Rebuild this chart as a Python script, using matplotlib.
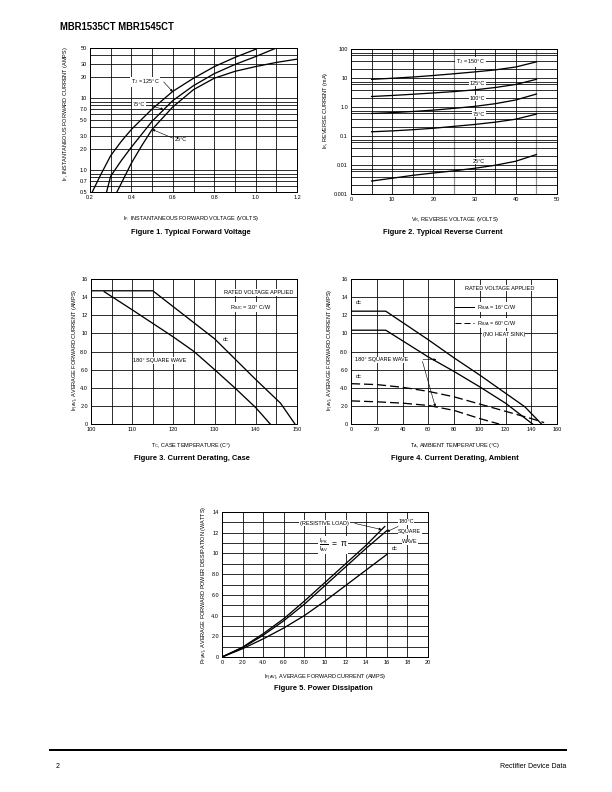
"""Datasheet page: MBR1535CT / MBR1545CT typical curves."""
import matplotlib
matplotlib.use('Agg')
import matplotlib.pyplot as plt
from matplotlib.ticker import FixedLocator, NullFormatter, LogLocator

plt.rcParams['font.family'] = ['Liberation Sans', 'DejaVu Sans']
plt.rcParams['mathtext.fontset'] = 'custom'
plt.rcParams['mathtext.rm'] = 'Liberation Sans'
plt.rcParams['mathtext.it'] = 'Liberation Sans'

# Figure 1: forward voltage (V) vs forward current (A)
f1_v125 = [0.211, 0.25, 0.3, 0.35, 0.4, 0.5, 0.6, 0.7, 0.8, 0.9, 1.0]
f1_i125 = [0.5, 0.85, 1.6, 2.5, 3.7, 7.1, 12.5, 19.0, 27.5, 37.0, 48.0]
f1_v75 = [0.28, 0.3, 0.35, 0.4, 0.5, 0.6, 0.7, 0.8, 0.9, 1.0, 1.1]
f1_i75 = [0.5, 0.83, 1.35, 2.1, 4.8, 9.3, 15.0, 22.0, 29.5, 38.0, 50.0]
f1_v25 = [0.33, 0.35, 0.4, 0.45, 0.5, 0.6, 0.7, 0.8, 0.9, 1.0, 1.1, 1.2]
f1_i25 = [0.5, 0.65, 1.26, 2.2, 3.7, 7.6, 13.2, 19.0, 23.7, 27.6, 31.5, 35.0]

# Figure 2: reverse voltage (V) vs reverse current (mA)
f2_v = [5, 10, 15, 20, 25, 30, 35, 40, 45]
f2_i150 = [9.0, 9.8, 10.8, 12.2, 14.0, 16.2, 19.0, 24.0, 36.0]
f2_i125 = [2.3, 2.5, 2.75, 3.05, 3.4, 3.9, 4.7, 6.0, 9.0]
f2_i100 = [0.6, 0.64, 0.7, 0.78, 0.9, 1.05, 1.3, 1.75, 2.8]
f2_i75 = [0.14, 0.15, 0.165, 0.185, 0.215, 0.25, 0.3, 0.38, 0.57]
f2_i25 = [0.0028, 0.0035, 0.0044, 0.0053, 0.0063, 0.0077, 0.0098, 0.0135, 0.023]

# Figure 3: case temperature derating
f3_t_dc = [100, 115, 130, 140, 146, 149.5]
f3_i_dc = [14.7, 14.7, 9.4, 4.9, 2.3, 0]
f3_t_sq = [103.2, 110, 115, 120, 125, 130, 135, 140, 143.5]
f3_i_sq = [14.6, 12.6, 11.1, 9.6, 8.0, 6.0, 3.95, 1.8, 0]

# Figure 4: ambient temperature derating
f4_t_dc16 = [0, 27, 60, 80, 100, 120, 135, 148]
f4_i_dc16 = [12.45, 12.45, 9.3, 7.3, 5.4, 3.4, 1.9, 0]
f4_t_sq16 = [0, 27, 60, 80, 100, 120, 141]
f4_i_sq16 = [10.35, 10.35, 7.4, 5.8, 4.1, 2.3, 0]
f4_t_dc60 = [0, 20, 40, 60, 80, 100, 120, 140, 150]
f4_i_dc60 = [4.45, 4.35, 4.05, 3.6, 3.0, 2.2, 1.4, 0.6, 0.15]
f4_t_sq60 = [0, 20, 40, 60, 80, 100, 115]
f4_i_sq60 = [2.55, 2.45, 2.3, 2.05, 1.5, 0.6, 0]

# Figure 5: power dissipation
f5_i = [0, 2, 4, 6, 8, 10, 12, 14, 16]
f5_p_dc = [0, 0.8, 1.75, 2.8, 4.0, 5.4, 6.9, 8.4, 9.9]
f5_p_sq = [0, 0.9, 2.1, 3.5, 5.1, 6.9, 8.7, 10.5, 12.2]
f5_i_res = [0, 2, 4, 6, 8, 10, 12, 14, 15.8]
f5_p_res = [0, 0.95, 2.25, 3.7, 5.4, 7.2, 9.0, 10.8, 12.6]

W, H = 612, 792
fig = plt.figure(figsize=(W / 72, H / 72), dpi=72)

TICK = 5.5
LAB = 5.5
CAP = 7.5
LW = 1.3
GLW = 0.8
WBOX = dict(fc='white', ec='none', pad=0.6)


def px_axes(x0, y0, x1, y1):
    ax = fig.add_axes([x0 / W, 1 - y1 / H, (x1 - x0) / W, (y1 - y0) / H])
    ax.tick_params(which='both', length=0, labelsize=TICK, pad=3)
    for s in ax.spines.values():
        s.set_linewidth(1.0)
    return ax


def ftext(x, y, s, **kw):
    fig.text(x / W, 1 - y / H, s, **kw)


def arrow(ax, xy, xytext):
    ax.annotate('', xy=xy, xytext=xytext,
                arrowprops=dict(arrowstyle='-|>', color='k', lw=0.6,
                                mutation_scale=5, shrinkA=0, shrinkB=0))


ftext(60, 27, 'MBR1535CT MBR1545CT', fontsize=9.5, fontweight='bold',
      va='center', ha='left')

# ---------------- Figure 1
ax = px_axes(90, 48, 297, 192)
ax.plot(f1_v125, f1_i125, 'k', lw=LW)
ax.plot(f1_v75, f1_i75, 'k', lw=LW)
ax.plot(f1_v25, f1_i25, 'k', lw=LW)
ax.set_yscale('log')
ax.set_xlim(0.2, 1.2)
ax.set_ylim(0.5, 50)
ax.set_xticks([0.2, 0.4, 0.6, 0.8, 1.0, 1.2])
ax.set_xticklabels(['0.2', '0.4', '0.6', '0.8', '1.0', '1.2'])
ax.xaxis.set_minor_locator(FixedLocator([0.3, 0.5, 0.7, 0.9, 1.1]))
f1_yt = [0.5, 0.7, 1, 2, 3, 5, 7, 10, 20, 30, 50]
ax.yaxis.set_major_locator(FixedLocator(f1_yt))
ax.set_yticklabels(['0.5', '0.7', '1.0', '2.0', '3.0', '5.0', '7.0', '10', '20', '30', '50'])
ax.yaxis.set_minor_locator(LogLocator(base=10, subs=range(1, 10), numticks=20))
ax.yaxis.set_minor_formatter(NullFormatter())
ax.grid(True, which='both', color='k', lw=GLW)
ax.text(0.466, 16.9, r'T$_\mathregular{J}$ = 125°C', fontsize=LAB, ha='center',
        va='center', bbox=WBOX)
arrow(ax, (0.6, 12.3), (0.556, 16.9))
ax.text(0.437, 8.3, '75°C', fontsize=LAB, ha='center', va='center', bbox=WBOX)
arrow(ax, (0.555, 7.0), (0.49, 8.0))
ax.text(0.64, 2.64, '25°C', fontsize=LAB, ha='center', va='center', bbox=WBOX)
arrow(ax, (0.5, 3.7), (0.6, 2.8))
ftext(65, 114, r'I$_\mathregular{F}$, INSTANTANEOUS FORWARD CURRENT (AMPS)',
      fontsize=LAB, rotation=90, ha='center', va='center')
ftext(191, 219, r'I$_\mathregular{F,}$ INSTANTANEOUS FORWARD VOLTAGE (VOLTS)',
      fontsize=LAB, ha='center', va='center')
ftext(191, 233, 'Figure 1. Typical Forward Voltage', fontsize=CAP,
      fontweight='bold', ha='center', va='center')

# ---------------- Figure 2
ax = px_axes(351, 49, 557, 194)
for cur in (f2_i150, f2_i125, f2_i100, f2_i75, f2_i25):
    ax.plot(f2_v, cur, 'k', lw=LW)
ax.set_yscale('log')
ax.set_xlim(0, 50)
ax.set_ylim(0.001, 100)
ax.set_xticks([0, 10, 20, 30, 40, 50])
ax.xaxis.set_minor_locator(FixedLocator([5, 15, 35]))
ax.yaxis.set_major_locator(FixedLocator([0.001, 0.01, 0.1, 1, 10, 100]))
ax.set_yticklabels(['0.001', '0.01', '0.1', '1.0', '10', '100'])
ax.yaxis.set_minor_locator(LogLocator(base=10, subs=[2, 4, 6, 7], numticks=20))
ax.yaxis.set_minor_formatter(NullFormatter())
ax.grid(True, which='both', color='k', lw=GLW)
for gx in (25, 45):
    ax.axvline(gx, color='0.55', lw=1.2, zorder=1.5)
ax.text(32.5, 35.5, r'T$_\mathregular{J}$ = 150°C', fontsize=LAB, ha='right',
        va='center', bbox=WBOX)
ax.text(32.5, 6.7, '125°C', fontsize=LAB, ha='right', va='center', bbox=WBOX)
ax.text(32.5, 2.0, '100°C', fontsize=LAB, ha='right', va='center', bbox=WBOX)
ax.text(32.5, 0.57, '75°C', fontsize=LAB, ha='right', va='center', bbox=WBOX)
ax.text(32.5, 0.0137, '25°C', fontsize=LAB, ha='right', va='center', bbox=WBOX)
ftext(325, 110, r'I$_\mathregular{R}$, REVERSE CURRENT (mA)', fontsize=LAB,
      rotation=90, ha='center', va='center')
ftext(455, 219, r'V$_\mathregular{R}$, REVERSE VOLTAGE (VOLTS)', fontsize=LAB,
      ha='center', va='center')
ftext(443, 232, 'Figure 2. Typical Reverse Current', fontsize=CAP,
      fontweight='bold', ha='center', va='center')

# ---------------- Figure 3
ax = px_axes(91, 279, 297, 424)
ax.plot(f3_t_dc, f3_i_dc, 'k', lw=LW)
ax.plot(f3_t_sq, f3_i_sq, 'k', lw=LW)
ax.set_xlim(100, 150)
ax.set_ylim(0, 16)
ax.set_xticks([100, 110, 120, 130, 140, 150])
ax.xaxis.set_minor_locator(FixedLocator([105, 115, 125, 135, 145]))
ax.set_yticks([0, 2, 4, 6, 8, 10, 12, 14, 16])
ax.set_yticklabels(['0', '2.0', '4.0', '6.0', '8.0', '10', '12', '14', '16'])
ax.grid(True, which='both', color='k', lw=GLW)
ax.text(149.0, 14.5, 'RATED VOLTAGE APPLIED', fontsize=LAB, ha='right',
        va='center', bbox=WBOX)
ax.text(138.8, 12.9, r'R$_\mathregular{θJC}$ = 3.0° C/W', fontsize=LAB,
        ha='center', va='center', bbox=WBOX)
ax.text(132.8, 9.3, 'dc', fontsize=LAB, ha='center', va='center', bbox=WBOX)
ax.text(116.7, 7.0, '180° SQUARE WAVE', fontsize=LAB, ha='center',
        va='center', bbox=WBOX)
ftext(76, 350, r'I$_\mathregular{F (AV)}$, AVERAGE FORWARD CURRENT (AMPS)',
      fontsize=LAB, rotation=90, ha='center', va='center')
ftext(191, 445, r'T$_\mathregular{C}$, CASE TEMPERATURE (C°)', fontsize=LAB,
      ha='center', va='center')
ftext(192, 458, 'Figure 3. Current Derating, Case', fontsize=CAP,
      fontweight='bold', ha='center', va='center')

# ---------------- Figure 4
ax = px_axes(351, 279, 557, 424)
ax.plot(f4_t_dc16, f4_i_dc16, 'k', lw=LW)
ax.plot(f4_t_sq16, f4_i_sq16, 'k', lw=LW)
ax.plot(f4_t_dc60, f4_i_dc60, 'k', lw=LW, dashes=(7, 3))
ax.plot(f4_t_sq60, f4_i_sq60, 'k', lw=LW, dashes=(7, 3))
ax.set_xlim(0, 160)
ax.set_ylim(0, 16)
ax.set_xticks([0, 20, 40, 60, 80, 100, 120, 140, 160])
ax.set_yticks([0, 2, 4, 6, 8, 10, 12, 14, 16])
ax.set_yticklabels(['0', '2.0', '4.0', '6.0', '8.0', '10', '12', '14', '16'])
ax.grid(True, which='both', color='k', lw=GLW)
ax.text(115.3, 15.0, 'RATED VOLTAGE APPLIED', fontsize=LAB, ha='center',
        va='center', bbox=WBOX)
ax.text(3.9, 13.4, 'dc', fontsize=LAB, ha='left', va='center', bbox=WBOX)
ax.text(3.9, 5.25, 'dc', fontsize=LAB, ha='left', va='center', bbox=WBOX)
ax.plot([81, 95.5], [12.9, 12.9], 'k', lw=1.0)
ax.plot([81, 95.5], [11.1, 11.1], 'k', lw=1.0, dashes=(6, 3))
ax.text(97.9, 12.9, r'R$_\mathregular{θJA}$ = 16° C/W', fontsize=LAB,
        ha='left', va='center', bbox=WBOX)
ax.text(97.9, 11.1, r'R$_\mathregular{θJA}$ = 60° C/W', fontsize=LAB,
        ha='left', va='center', bbox=WBOX)
ax.text(118.6, 9.87, '(NO HEAT SINK)', fontsize=LAB, ha='center',
        va='center', bbox=WBOX)
ax.text(3.4, 7.1, '180° SQUARE WAVE', fontsize=LAB, ha='left', va='center',
        bbox=WBOX)
arrow(ax, (66.3, 7.1), (56, 7.1))
arrow(ax, (65.5, 1.9), (55.5, 6.9))
ftext(331, 350, r'I$_\mathregular{F (AV)}$, AVERAGE FORWARD CURRENT (AMPS)',
      fontsize=LAB, rotation=90, ha='center', va='center')
ftext(455, 445, r'T$_\mathregular{A}$, AMBIENT TEMPERATURE (°C)', fontsize=LAB,
      ha='center', va='center')
ftext(455, 458, 'Figure 4. Current Derating, Ambient', fontsize=CAP,
      fontweight='bold', ha='center', va='center')

# ---------------- Figure 5
ax = px_axes(222, 512, 428, 657)
ax.plot(f5_i_res, f5_p_res, 'k', lw=LW)
ax.plot(f5_i, f5_p_sq, 'k', lw=LW)
ax.plot(f5_i, f5_p_dc, 'k', lw=LW)
ax.set_xlim(0, 20)
ax.set_ylim(0, 14)
ax.set_xticks([0, 2, 4, 6, 8, 10, 12, 14, 16, 18, 20])
ax.set_xticklabels(['0', '2.0', '4.0', '6.0', '8.0', '10', '12', '14', '16', '18', '20'])
ax.set_yticks([0, 2, 4, 6, 8, 10, 12, 14])
ax.set_yticklabels(['0', '2.0', '4.0', '6.0', '8.0', '10', '12', '14'])
ax.yaxis.set_minor_locator(FixedLocator([1, 3, 5, 7, 9, 11, 13]))
ax.grid(True, which='both', color='k', lw=GLW)
ax.text(9.95, 12.9, '(RESISTIVE LOAD)', fontsize=LAB, ha='center',
        va='center', bbox=WBOX)
arrow(ax, (15.5, 12.3), (12.9, 12.9))
ax.text(17.1, 13.06, '180°C', fontsize=LAB, ha='left', va='center', bbox=WBOX)
ax.text(17.1, 12.1, 'SQUARE', fontsize=LAB, ha='left', va='center', bbox=WBOX)
ax.text(17.5, 11.13, 'WAVE', fontsize=LAB, ha='left', va='center', bbox=WBOX)
ax.text(16.5, 10.5, 'dc', fontsize=LAB, ha='left', va='center', bbox=WBOX)
arrow(ax, (16.0, 12.1), (17.1, 12.6))
ax.text(10.8, 10.8,
        r'$\frac{\mathregular{I_{PK}}}{\mathregular{I_{AV}}}\mathregular{\ =\ }\pi$',
        fontsize=8.5, ha='center', va='center', bbox=WBOX)
ftext(205, 585, r'P$_\mathregular{F (AV)}$, AVERAGE FORWARD POWER DISSIPATION (WATTS)',
      fontsize=LAB, rotation=90, ha='center', va='center')
ftext(325, 678, r'I$_\mathregular{F(AV)}$, AVERAGE FORWARD CURRENT (AMPS)',
      fontsize=LAB, ha='center', va='center')
ftext(323, 688, 'Figure 5. Power Dissipation', fontsize=CAP,
      fontweight='bold', ha='center', va='center')

# ---------------- footer
fig.add_artist(plt.Line2D([50 / W, 566 / W], [1 - 750 / H, 1 - 750 / H],
                          color='k', lw=2.0))
ftext(56, 766, '2', fontsize=7, ha='left', va='center')
ftext(566, 766, 'Rectifier Device Data', fontsize=7, ha='right', va='center')

fig.savefig('out.png', dpi=72, facecolor='white')
